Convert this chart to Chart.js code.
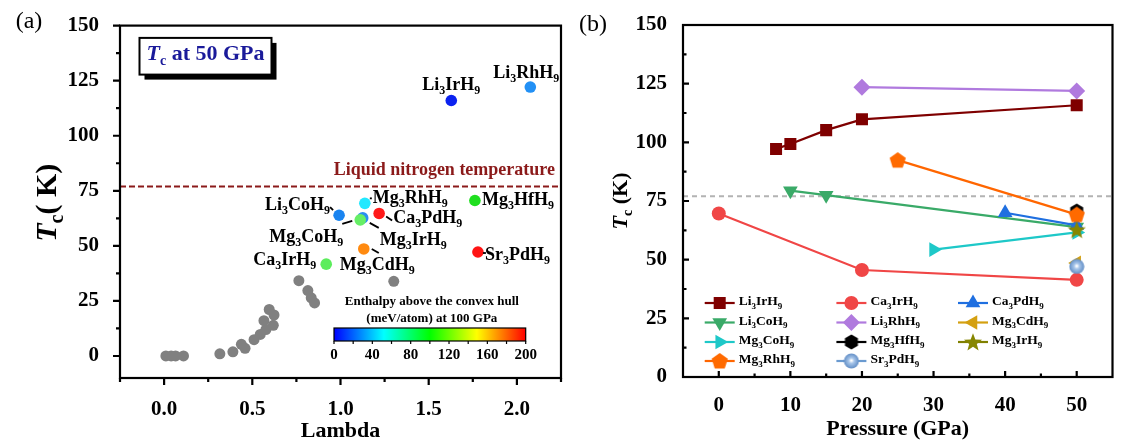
<!DOCTYPE html>
<html>
<head>
<meta charset="utf-8">
<script src="https://cdn.jsdelivr.net/npm/chart.js@4.4.1/dist/chart.umd.min.js"></script>
<style>
  html, body { margin: 0; padding: 0; background: #fff; }
  #wrap { position: relative; width: 1121px; height: 444px; }
  #chartA { position: absolute; left: 0; top: 0; }
  #chartB { position: absolute; left: 570px; top: 0; }
</style>
</head>
<body>
<div id="wrap">
  <canvas id="chartA" width="570" height="444"></canvas>
  <canvas id="chartB" width="551" height="444"></canvas>
</div>
<script>
// ---- panel (a): Tc at 50 GPa vs lambda ----
const lambdaTicks = [0, 0.5, 1.0, 1.5, 2.0];
const lambdaMinor = [-0.25, 0.25, 0.75, 1.25, 1.75, 2.25];
const tcTicks = [0, 25, 50, 75, 100, 125, 150];
const tcMinor = [12.5, 37.5, 62.5, 87.5, 112.5, 137.5];
const liquidN2 = 77;

// grey points (other compounds)
const grayLambda = [0.01, 0.04, 0.065, 0.11, 0.316, 0.39, 0.438, 0.459, 0.51, 0.545, 0.566, 0.577, 0.596, 0.623, 0.619, 0.764, 0.815, 0.834, 0.853, 1.302];
const grayTc = [0, 0, 0, 0, 1.0, 1.9, 5.3, 3.5, 7.4, 9.8, 16.0, 12.0, 21.1, 18.6, 13.9, 34.2, 29.7, 26.4, 24.1, 33.9];

// coloured points, Tc at 50 GPa
const hydridesA = ['Li3IrH9', 'Li3RhH9', 'Li3CoH9', 'Mg3IrH9', 'Mg3CoH9', 'Mg3RhH9', 'Ca3PdH9', 'Mg3HfH9', 'Mg3CdH9', 'Sr3PdH9', 'Ca3IrH9'];
const lambda50 = [1.628, 2.076, 0.992, 1.126, 1.112, 1.138, 1.219, 1.762, 1.132, 1.779, 0.919];
const tc50 = [116.0, 122.1, 63.9, 62.7, 61.8, 69.3, 64.7, 70.6, 48.6, 47.2, 41.7];
const dotColors = ['#0b22f0', '#2290f5', '#1a84f0', '#2a8ef0', '#66ee66', '#22e8ff', '#ff1a1a', '#1fdf1f', '#ff8a10', '#ff1414', '#5ced5c'];

const enthalpyTicks = [0, 40, 80, 120, 160, 200];

// ---- panel (b): Tc vs pressure ----
const pressTicks = [0, 10, 20, 30, 40, 50];
const pressMinor = [5, 15, 25, 35, 45];

const li3IrP = [8, 10, 15, 20, 50],  li3IrTc = [97.2, 99.3, 105.2, 109.8, 115.8];
const ca3IrP = [0, 20, 50],          ca3IrTc = [69.7, 45.6, 41.4];
const ca3PdP = [40, 50],             ca3PdTc = [70.0, 64.6];
const li3CoP = [10, 15, 50],         li3CoTc = [79.4, 77.5, 63.9];
const li3RhP = [20, 50],             li3RhTc = [123.5, 121.9];
const mg3CdP = [50],                 mg3CdTc = [48.6];
const mg3CoP = [30, 50],             mg3CoTc = [54.3, 61.6];
const mg3HfP = [50],                 mg3HfTc = [70.7];
const mg3IrP = [50],                 mg3IrTc = [62.8];
const mg3RhP = [25, 50],             mg3RhTc = [92.4, 69.2];
const sr3PdP = [50],                 sr3PdTc = [47.1];

const SERIF = '"Liberation Serif", "Times New Roman", serif';
const tickFont = { family: SERIF, size: 21, weight: 'bold' };

// text with subscripts / italics: segs = [[text, 'n'|'i'|'s'], ...]
function richText(ctx, segs, x, y, size, align, color) {
  const fonts = {
    n: `bold ${size}px ${SERIF}`,
    i: `italic bold ${size}px ${SERIF}`,
    s: `bold ${Math.round(size * 0.65)}px ${SERIF}`
  };
  let w = 0;
  for (const [t, k] of segs) { ctx.font = fonts[k]; w += ctx.measureText(t).width; }
  let cx = align === 'right' ? x - w : align === 'center' ? x - w / 2 : x;
  ctx.fillStyle = color;
  ctx.textAlign = 'left';
  ctx.textBaseline = 'middle';
  for (const [t, k] of segs) {
    ctx.font = fonts[k];
    ctx.fillText(t, cx, k === 's' ? y + size * 0.32 : y);
    cx += ctx.measureText(t).width;
  }
}
const chem = s => s.match(/[A-Za-z]+|\d+/g).map(p => [p, /\d/.test(p) ? 's' : 'n']);

function frameTicks(chart, dir, xMajor, xMinor, yMajor, yMinor, maj, min) {
  const { ctx, chartArea: a, scales: { x, y } } = chart;
  const s = dir === 'out' ? 1 : -1;
  ctx.save();
  ctx.strokeStyle = '#000';
  ctx.lineWidth = 2.2;
  ctx.strokeRect(a.left, a.top, a.right - a.left, a.bottom - a.top);
  ctx.beginPath();
  xMajor.forEach(v => { const p = x.getPixelForValue(v); ctx.moveTo(p, a.bottom); ctx.lineTo(p, a.bottom + s * maj); });
  xMinor.forEach(v => { const p = x.getPixelForValue(v); ctx.moveTo(p, a.bottom); ctx.lineTo(p, a.bottom + s * min); });
  yMajor.forEach(v => { const p = y.getPixelForValue(v); ctx.moveTo(a.left, p); ctx.lineTo(a.left - s * maj, p); });
  yMinor.forEach(v => { const p = y.getPixelForValue(v); ctx.moveTo(a.left, p); ctx.lineTo(a.left - s * min, p); });
  ctx.stroke();
  ctx.restore();
}

// label offsets (px) from each coloured point in (a)
const labelPlace = {
  Li3IrH9: [0, -15, 'center'], Li3RhH9: [-4, -14, 'center'], Mg3HfH9: [7, 0, 'left'],
  Mg3RhH9: [8, -5, 'left'], Ca3PdH9: [14, 5, 'left'], Li3CoH9: [-9, -10, 'right'],
  Mg3CoH9: [-17, 17, 'right'], Mg3IrH9: [17, 22, 'left'], Mg3CdH9: [-24, 16, 'left'],
  Sr3PdH9: [7, 3, 'left'], Ca3IrH9: [-10, -4, 'right']
};
const leaders = {
  Mg3CoH9: [-18, 4, -8, 1], Mg3IrH9: [7, 5, 16, 10], Mg3CdH9: [8, 0, 15, 4],
  Ca3PdH9: [7, 3, 13, 7], Li3CoH9: [-9, -8, -6, -5], Sr3PdH9: [5, 1, 8, 1], Mg3RhH9: [5, -5, 7, -5]
};

const panelA = {
  id: 'panelA',
  beforeDatasetsDraw(chart) {
    const { ctx, chartArea: a, scales: { y } } = chart;
    const yl = y.getPixelForValue(liquidN2);
    ctx.save();
    ctx.strokeStyle = '#8b1a1a';
    ctx.lineWidth = 2;
    ctx.setLineDash([6, 3]);
    ctx.beginPath(); ctx.moveTo(a.left, yl); ctx.lineTo(a.right, yl); ctx.stroke();
    ctx.restore();
  },
  afterDraw(chart) {
    const { ctx, chartArea: a, scales: { x, y } } = chart;
    frameTicks(chart, 'out', lambdaTicks, lambdaMinor, tcTicks, tcMinor, 7, 4);
    ctx.save();
    // nitrogen label
    ctx.font = `bold 18px ${SERIF}`;
    ctx.fillStyle = '#8b1a1a';
    ctx.textAlign = 'right';
    ctx.textBaseline = 'middle';
    ctx.fillText('Liquid nitrogen temperature', a.right - 6, y.getPixelForValue(liquidN2) - 16);

    // point labels
    hydridesA.forEach((n, i) => {
      const px = x.getPixelForValue(lambda50[i]), py = y.getPixelForValue(tc50[i]);
      const [dx, dy, al] = labelPlace[n];
      richText(ctx, chem(n), px + dx, py + dy, 18, al, '#000');
      const l = leaders[n];
      if (l) {
        ctx.strokeStyle = '#000'; ctx.lineWidth = 1.8;
        ctx.beginPath(); ctx.moveTo(px + l[0], py + l[1]); ctx.lineTo(px + l[2], py + l[3]); ctx.stroke();
      }
    });

    // "Tc at 50 GPa" box
    const bx = a.left + 19.5, by = a.top + 12.3, bw = 132, bh = 36.7;
    ctx.fillStyle = '#000';
    ctx.fillRect(bx + 5, by + 5, bw, bh);
    ctx.fillStyle = '#fff';
    ctx.fillRect(bx, by, bw, bh);
    ctx.strokeStyle = '#000'; ctx.lineWidth = 2;
    ctx.strokeRect(bx, by, bw, bh);
    richText(ctx, [['T', 'i'], ['c', 's'], [' at 50 GPa', 'n']], bx + bw / 2, by + bh / 2 - 1.5, 22, 'center', '#1a1a9a');

    // colour bar
    const cl = a.left + 214, cr = a.left + 405.7, ct = a.bottom - 50, cb = a.bottom - 37;
    const g = ctx.createLinearGradient(cl, 0, cr, 0);
    g.addColorStop(0, '#0000ff'); g.addColorStop(0.26, '#00ffff'); g.addColorStop(0.5, '#00ff00');
    g.addColorStop(0.745, '#ffff00'); g.addColorStop(1, '#ff0000');
    ctx.fillStyle = g;
    ctx.fillRect(cl, ct, cr - cl, cb - ct);
    ctx.lineWidth = 1.2;
    ctx.strokeRect(cl, ct, cr - cl, cb - ct);
    ctx.beginPath();
    for (let v = 0; v <= 200; v += 20) {
      const p = cl + (cr - cl) * v / 200;
      ctx.moveTo(p, cb); ctx.lineTo(p, cb + 3);
    }
    ctx.stroke();
    ctx.fillStyle = '#000';
    ctx.font = `bold 15px ${SERIF}`;
    ctx.textAlign = 'center';
    enthalpyTicks.forEach(v => ctx.fillText(String(v), cl + (cr - cl) * v / 200, cb + 14.5));
    ctx.font = `bold 13px ${SERIF}`;
    ctx.fillText('Enthalpy above the convex hull', (cl + cr) / 2 + 2, ct - 26);
    ctx.fillText('(meV/atom) at 100 GPa', (cl + cr) / 2 + 2, ct - 9.5);

    // axis titles and panel letter
    ctx.font = `bold 22px ${SERIF}`;
    ctx.fillText('Lambda', (a.left + a.right) / 2, 431);
    ctx.save();
    ctx.translate(48, (a.top + a.bottom) / 2 + 1);
    ctx.rotate(-Math.PI / 2);
    richText(ctx, [['T', 'i'], ['c', 's'], ['( K)', 'n']], 0, 0, 30, 'center', '#000');
    ctx.restore();
    ctx.font = `24px ${SERIF}`;
    ctx.fillStyle = '#000';
    ctx.textAlign = 'center';
    ctx.fillText('(a)', 29, 22);
    ctx.restore();
  }
};

new Chart(document.getElementById('chartA'), {
  type: 'scatter',
  data: {
    datasets: [
      { data: hydridesA.map((n, i) => ({ x: lambda50[i], y: tc50[i] })), backgroundColor: dotColors, pointRadius: 5.8, borderWidth: 0 },
      { data: grayLambda.map((v, i) => ({ x: v, y: grayTc[i] })), backgroundColor: '#808080', pointRadius: 5.5, borderWidth: 0 }
    ]
  },
  options: {
    responsive: false,
    animation: false,
    layout: { padding: { left: 0, right: 9, top: 23, bottom: 0 } },
    plugins: { legend: { display: false }, tooltip: { enabled: false } },
    scales: {
      x: {
        type: 'linear', min: -0.25, max: 2.25,
        grid: { display: false }, border: { display: false },
        afterBuildTicks: s => { s.ticks = lambdaTicks.map(v => ({ value: v })); },
        afterFit: s => { s.height = 66; },
        ticks: { autoSkip: false, maxRotation: 0, padding: 11, color: '#000', font: tickFont, callback: v => v.toFixed(1) }
      },
      y: {
        min: -10, max: 150,
        grid: { display: false }, border: { display: false },
        afterBuildTicks: s => { s.ticks = tcTicks.map(v => ({ value: v })); },
        afterFit: s => { s.width = 120; },
        ticks: { autoSkip: false, padding: 13, color: '#000', font: tickFont, callback: v => v }
      }
    }
  },
  plugins: [panelA]
});

// ---- custom markers for (b) ----
function markerCanvas(size, paint) {
  const c = document.createElement('canvas');
  c.width = size; c.height = size;
  paint(c.getContext('2d'), size / 2);
  return c;
}
function polyPath(g, cx, cy, r, n, rot) {
  g.beginPath();
  for (let k = 0; k < n; k++) {
    const t = rot + k * 2 * Math.PI / n;
    g.lineTo(cx + r * Math.cos(t), cy + r * Math.sin(t));
  }
  g.closePath();
}
const pentagon = markerCanvas(18, (g, h) => { polyPath(g, h, h + 0.5, 8.5, 5, -Math.PI / 2); g.fillStyle = '#ff6a00'; g.fill(); });
const hexagon = markerCanvas(16, (g, h) => { polyPath(g, h, h, 7.5, 6, -Math.PI / 2); g.fillStyle = '#000'; g.fill(); });
const star = markerCanvas(20, (g, h) => {
  g.beginPath();
  for (let k = 0; k < 10; k++) {
    const r = k % 2 ? 4 : 9.5, t = -Math.PI / 2 + k * Math.PI / 5;
    g.lineTo(h + r * Math.cos(t), h + 0.8 + r * Math.sin(t));
  }
  g.closePath(); g.fillStyle = '#868600'; g.fill();
});
const sphere = markerCanvas(16, (g, h) => {
  const grd = g.createRadialGradient(h, h - 0.5, 0.5, h, h, h);
  grd.addColorStop(0, '#ffffff'); grd.addColorStop(0.3, '#a8c6ea'); grd.addColorStop(1, '#5a88c2');
  g.fillStyle = grd; g.beginPath(); g.arc(h, h, h - 0.5, 0, Math.PI * 2); g.fill();
});

// name, pressures, Tc, colour, marker, rotation, radius, order
const seriesB = [
  ['Li3IrH9', li3IrP, li3IrTc, '#7f0000', 'rect', 0, 8.5, 0],
  ['Ca3IrH9', ca3IrP, ca3IrTc, '#f04646', 'circle', 0, 7, 0],
  ['Ca3PdH9', ca3PdP, ca3PdTc, '#1f6fe0', 'triangle', 0, 8.5, 0],
  ['Li3CoH9', li3CoP, li3CoTc, '#3aaa68', 'triangle', 180, 8.5, 0],
  ['Li3RhH9', li3RhP, li3RhTc, '#b07ade', 'rectRot', 0, 8.5, 0],
  ['Mg3CdH9', mg3CdP, mg3CdTc, '#d4a010', 'triangle', 270, 8.5, 0],
  ['Mg3CoH9', mg3CoP, mg3CoTc, '#1ec8c8', 'triangle', 90, 8.5, 0],
  ['Mg3HfH9', mg3HfP, mg3HfTc, '#000000', hexagon, 0, 7, 0],
  ['Mg3IrH9', mg3IrP, mg3IrTc, '#808000', star, 0, 8, -2],
  ['Mg3RhH9', mg3RhP, mg3RhTc, '#ff6600', pentagon, 0, 8, -1],
  ['Sr3PdH9', sr3PdP, sr3PdTc, '#6a9ad0', sphere, 0, 7, -1]
];

const panelB = {
  id: 'panelB',
  beforeDatasetsDraw(chart) {
    const { ctx, chartArea: a, scales: { y } } = chart;
    const yl = y.getPixelForValue(liquidN2);
    ctx.save();
    ctx.strokeStyle = '#b3b3b3';
    ctx.lineWidth = 2;
    ctx.setLineDash([5, 4]);
    ctx.beginPath(); ctx.moveTo(a.left, yl); ctx.lineTo(a.right, yl); ctx.stroke();
    ctx.restore();
  },
  afterDraw(chart) {
    const { ctx, chartArea: a } = chart;
    frameTicks(chart, 'in', pressTicks, pressMinor, tcTicks, tcMinor, 6, 3.5);
    ctx.save();
    // legend, 3 columns
    const colX = [36.7, 168.4, 290], rowY = [-74, -54.5, -35, -16];
    seriesB.forEach(([name, , , color, ps, rot, r], i) => {
      const mx = a.left + colX[i % 3], my = a.bottom + rowY[Math.floor(i / 3)];
      ctx.strokeStyle = color; ctx.lineWidth = 2.2;
      ctx.beginPath(); ctx.moveTo(mx - 15, my); ctx.lineTo(mx + 15, my); ctx.stroke();
      ctx.fillStyle = color;
      Chart.helpers.drawPoint(ctx, { pointStyle: ps, rotation: rot, radius: r, borderWidth: 0 }, mx, my);
      richText(ctx, chem(name), mx + 19, my - 1, 13.5, 'left', '#000');
    });
    // titles
    ctx.fillStyle = '#000';
    ctx.font = `bold 22px ${SERIF}`;
    ctx.textAlign = 'center';
    ctx.textBaseline = 'middle';
    ctx.fillText('Pressure (GPa)', (a.left + a.right) / 2, 429);
    ctx.save();
    ctx.translate(51, 201);
    ctx.rotate(-Math.PI / 2);
    richText(ctx, [['T', 'i'], ['c', 's'], [' (K)', 'n']], 0, 0, 22, 'center', '#000');
    ctx.restore();
    ctx.font = `24px ${SERIF}`;
    ctx.fillStyle = '#000';
    ctx.textAlign = 'center';
    ctx.fillText('(b)', 23, 25);
    ctx.restore();
  }
};

new Chart(document.getElementById('chartB'), {
  type: 'scatter',
  data: {
    datasets: seriesB.map(([name, ps, tc, color, style, rot, r, ord]) => ({
      label: name,
      data: ps.map((p, i) => ({ x: p, y: tc[i] })),
      showLine: true,
      borderColor: color,
      backgroundColor: color,
      borderWidth: 2.2,
      pointStyle: style,
      pointRotation: rot,
      pointRadius: r,
      pointBorderWidth: 0,
      order: ord
    }))
  },
  options: {
    responsive: false,
    animation: false,
    layout: { padding: { left: 0, right: 2, top: 25, bottom: 0 } },
    plugins: { legend: { display: false }, tooltip: { enabled: false } },
    scales: {
      x: {
        type: 'linear', min: -5, max: 55,
        grid: { display: false }, border: { display: false },
        afterBuildTicks: s => { s.ticks = pressTicks.map(v => ({ value: v })); },
        afterFit: s => { s.height = 67; },
        ticks: { autoSkip: false, maxRotation: 0, padding: 7.5, color: '#000', font: tickFont, callback: v => v }
      },
      y: {
        min: 0, max: 150,
        grid: { display: false }, border: { display: false },
        afterBuildTicks: s => { s.ticks = tcTicks.map(v => ({ value: v })); },
        afterFit: s => { s.width = 113; },
        ticks: { autoSkip: false, padding: 8, color: '#000', font: tickFont, callback: v => v }
      }
    }
  },
  plugins: [panelB]
});
</script>
</body>
</html>
